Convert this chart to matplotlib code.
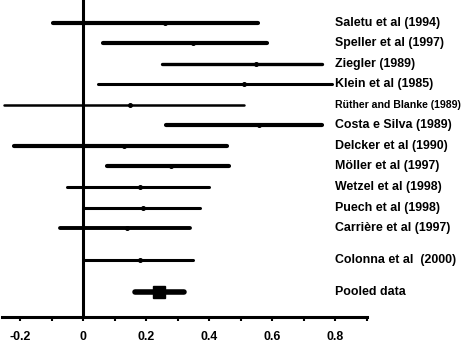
import numpy as np
import matplotlib
matplotlib.use("Agg")
import matplotlib.pyplot as plt

plt.rcParams['font.family'] = ['Liberation Sans', 'DejaVu Sans']

studies = ["Saletu et al (1994)", "Speller et al (1997)", "Ziegler (1989)",
           "Klein et al (1985)", "Rüther and Blanke (1989)", "Costa e Silva (1989)",
           "Delcker et al (1990)", "Möller et al (1997)", "Wetzel et al (1998)",
           "Puech et al (1998)", "Carrière et al (1997)", "Colonna et al  (2000)"]
effect = [0.26, 0.35, 0.55, 0.51, 0.15, 0.56, 0.13, 0.28, 0.18, 0.19, 0.14, 0.18]
lower = [-0.095, 0.063, 0.25, 0.047, -0.25, 0.265, -0.22, 0.076, -0.05, 0.0, -0.073, 0.0]
upper = [0.556, 0.584, 0.76, 0.79, 0.51, 0.76, 0.457, 0.465, 0.40, 0.37, 0.34, 0.35]

pooled_label = "Pooled data"
pooled_effect = 0.24
pooled_lower = 0.165
pooled_upper = 0.32

# layout: row slots (Colonna and pooled are set a bit apart)
rows = list(range(11)) + [11.55]
pooled_row = 13.1
line_w = [3.0, 3.0, 2.4, 2.2, 1.8, 3.0, 3.0, 3.0, 2.2, 2.2, 2.8, 2.2]

fig = plt.figure(figsize=(4.61, 3.45), dpi=100)
ax = fig.add_axes([0, 28 / 345, 1, 317 / 345])
ax.set_xlim(-83 / 315, 378 / 315)
ax.set_ylim(14.34, -1.12)

for y, lo, hi, e, lw in zip(rows, lower, upper, effect, line_w):
    ax.plot([lo, hi], [y, y], color="black", lw=lw, solid_capstyle="round")
    ax.plot(e, y, "o", color="black", ms=2.6)

ax.plot([pooled_lower, pooled_upper], [pooled_row, pooled_row], color="black",
        lw=4, solid_capstyle="round")
ax.plot(pooled_effect, pooled_row, "s", color="black", ms=8.5)

for y, name in zip(rows, studies):
    small = name.startswith("Rüther")
    ax.text(0.80, y, name, ha="left", va="center", fontweight="bold",
            fontsize=7.6 if small else 8.9, clip_on=False)
ax.text(0.80, pooled_row, pooled_label, ha="left", va="center",
        fontweight="bold", fontsize=8.9)

ax.axvline(0, color="black", lw=2.2)

for s in ["top", "right", "left"]:
    ax.spines[s].set_visible(False)
ax.spines["bottom"].set_linewidth(2.2)
ax.spines["bottom"].set_bounds(-0.257, 0.9)
ax.set_yticks([])
ticks = np.round(np.arange(-0.2, 0.91, 0.1), 1)
ax.set_xticks(ticks)
ax.set_xticklabels([f"{t:g}" if round(t * 10) % 2 == 0 else "" for t in ticks],
                   fontweight="bold", fontsize=8.9)
ax.tick_params(axis="x", length=3, width=1.5, pad=7)

plt.savefig("out.png", dpi=100)
